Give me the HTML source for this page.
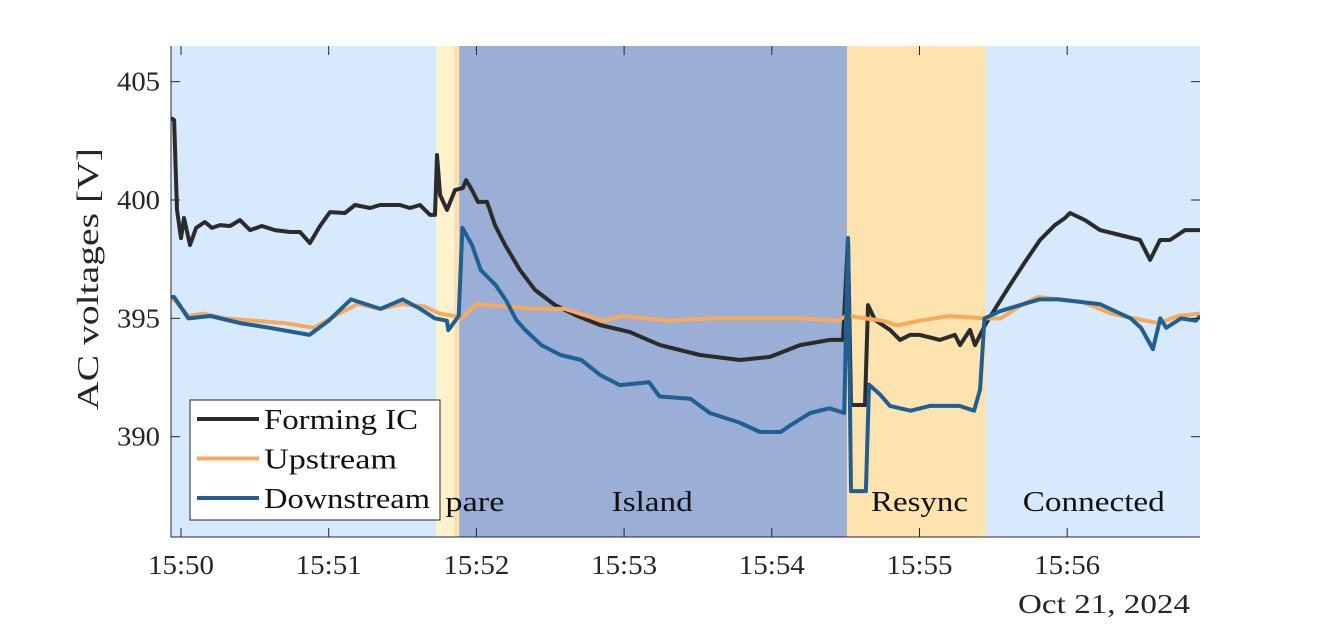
<!DOCTYPE html>
<html><head><meta charset="utf-8"><style>
body{margin:0;background:#fff;}
svg{display:block;font-family:"Liberation Serif",serif;}
</style></head><body>
<svg id="chart" width="1328" height="625" viewBox="0 0 1328 625" xmlns="http://www.w3.org/2000/svg"></svg>
<script>
// time in minutes after 15:50
const xTicks=[0,1,2,3,4,5,6];
const xTickLabels=["15:50","15:51","15:52","15:53","15:54","15:55","15:56"];
const yTicks=[390,395,400,405];
const phaseNames=["Connected","Prepare","Prepare","Island","Resync","Connected"];
const phaseStart=[-0.068,1.728,1.85,1.884,4.509,5.45];
const phaseEnd=[1.728,1.85,1.884,4.509,5.45,6.899];
const phaseColors=["#d6e9fd","#fdf2cc","#fde0ad","#9aaed6","#fde3ad","#d6e9fd"];
const labelNames=["pare","Island","Resync","Connected"];
const labelT=[1.99,3.19,5.0,6.18];
const labelW=[59,81,97,142];

const formT=[-0.068,-0.047,-0.027,0,0.02,0.061,0.102,0.162,0.21,0.264,0.332,0.399,0.467,0.548,0.636,0.738,0.806,0.873,0.941,1.009,1.11,1.178,1.28,1.347,1.415,1.483,1.55,1.618,1.686,1.72,1.733,1.754,1.801,1.855,1.909,1.93,1.97,2.011,2.072,2.126,2.194,2.295,2.397,2.532,2.668,2.837,3.04,3.243,3.514,3.785,3.988,4.191,4.394,4.482,4.516,4.536,4.631,4.651,4.699,4.8,4.868,4.936,5.003,5.139,5.24,5.274,5.342,5.376,5.444,5.511,5.613,5.714,5.816,5.917,5.985,6.019,6.12,6.222,6.357,6.493,6.561,6.628,6.696,6.798,6.899];
const formV=[403.46,403.38,399.58,398.39,399.24,398.1,398.82,399.07,398.82,398.94,398.9,399.15,398.73,398.9,398.73,398.65,398.65,398.18,398.9,399.49,399.45,399.79,399.66,399.79,399.79,399.79,399.66,399.79,399.37,399.37,401.9,400.21,399.58,400.42,400.51,400.84,400.42,399.92,399.92,398.94,398.1,397.04,396.2,395.56,395.14,394.72,394.42,393.87,393.45,393.24,393.37,393.87,394.09,394.09,398.39,391.34,391.34,395.56,394.93,394.51,394.09,394.3,394.3,394.09,394.3,393.87,394.51,393.87,394.72,395.4,396.41,397.38,398.31,398.94,399.24,399.45,399.15,398.73,398.52,398.31,397.47,398.31,398.31,398.73,398.73];

const upT=[-0.068,-0.02,0.05,0.15,0.3,0.5,0.7,0.9,1.1,1.2,1.35,1.5,1.65,1.75,1.85,1.9,2.0,2.2,2.4,2.6,2.85,3.0,3.3,3.6,3.9,4.2,4.45,4.5,4.52,4.63,4.75,4.85,5.0,5.2,5.44,5.55,5.7,5.8,5.95,6.1,6.3,6.45,6.62,6.75,6.9];
const upV=[395.9,395.6,395.1,395.2,395.0,394.9,394.8,394.6,395.3,395.6,395.4,395.6,395.5,395.2,395.1,395.0,395.6,395.5,395.4,395.4,394.9,395.1,394.9,395.0,395.0,395.0,394.9,395.1,395.1,395.0,394.9,394.7,394.9,395.1,395.0,395.0,395.6,395.9,395.8,395.7,395.2,395.0,394.8,395.1,395.2];

const downT=[-0.068,-0.047,0.05,0.2,0.4,0.6,0.87,1.0,1.15,1.35,1.5,1.62,1.72,1.8,1.81,1.88,1.905,1.97,2.03,2.13,2.2,2.27,2.33,2.44,2.57,2.71,2.84,2.97,3.17,3.24,3.45,3.58,3.78,3.92,4.06,4.13,4.26,4.39,4.49,4.516,4.536,4.637,4.658,4.73,4.8,4.94,5.07,5.27,5.37,5.41,5.44,5.545,5.81,5.94,6.22,6.43,6.5,6.58,6.63,6.67,6.77,6.87,6.9];
const downV=[395.9,395.9,395.0,395.1,394.8,394.6,394.3,394.9,395.8,395.4,395.8,395.4,395.0,394.9,394.5,395.1,398.82,398.1,397.04,396.41,395.77,394.93,394.51,393.87,393.45,393.24,392.6,392.18,392.3,391.7,391.6,391.0,390.6,390.2,390.2,390.5,391.0,391.2,391.0,398.39,387.7,387.7,392.2,391.8,391.3,391.1,391.3,391.3,391.1,392.0,395.0,395.3,395.8,395.8,395.6,395.0,394.6,393.7,395.0,394.6,395.0,394.9,395.1];

const svg=document.getElementById('chart');
const NS="http://www.w3.org/2000/svg";
const L=171,R=1200,T=46,B=537;
const X=t=>181+t*147.7;
const Y=v=>200-(v-400)*23.67;
function mk(tag,attrs,parent){const e=document.createElementNS(NS,tag);for(const k in attrs)e.setAttribute(k,attrs[k]);(parent||svg).appendChild(e);return e;}

const defs=mk('defs',{});
const cp=mk('clipPath',{id:'plotclip'},defs);
mk('rect',{x:L,y:T,width:R-L,height:B-T},cp);

phaseStart.forEach((s,i)=>{
  const r=mk('rect',{x:X(s),y:T,width:X(phaseEnd[i])-X(s),height:B-T,fill:phaseColors[i]});
  
  
});
labelNames.forEach((n,i)=>{
  const tx=mk('text',{x:X(labelT[i]),y:511,'font-size':28,'text-anchor':'middle',fill:'#111',textLength:labelW[i],lengthAdjust:'spacingAndGlyphs'});
  tx.textContent=n;
  
  
});

function series(ts,vs,color,name){
  const d=ts.map((t,i)=>(i?'L':'M')+X(t).toFixed(1)+' '+Y(vs[i]).toFixed(1)).join(' ');
  const p=mk('path',{d:d,fill:'none',stroke:color,'stroke-width':4,'stroke-linejoin':'round','clip-path':'url(#plotclip)'});
  
  
}
series(formT,formV,'#2b2b2b','forming-ic-line');
series(upT,upV,'#f8aa5c','upstream-line');
series(downT,downV,'#1f5f94','downstream-line');

const ax=mk('path',{d:`M${L} ${T} L${L} ${B} L${R} ${B}`,fill:'none',stroke:'#262626','stroke-width':1});


xTicks.forEach((t,i)=>{
  mk('line',{x1:X(t),x2:X(t),y1:B,y2:B-9,stroke:'#262626'});
  mk('line',{x1:X(t),x2:X(t),y1:T,y2:T+9,stroke:'#262626'});
  const tx=mk('text',{x:X(t),y:574,'font-size':27,'text-anchor':'middle',fill:'#262626',textLength:66,lengthAdjust:'spacingAndGlyphs'});
  tx.textContent=xTickLabels[i];
  
  
});
yTicks.forEach(v=>{
  mk('line',{x1:L,x2:L+9,y1:Y(v),y2:Y(v),stroke:'#262626'});
  mk('line',{x1:R,x2:R-9,y1:Y(v),y2:Y(v),stroke:'#262626'});
  const tx=mk('text',{x:160,y:Y(v)+9,'font-size':27,'text-anchor':'end',fill:'#262626',textLength:43,lengthAdjust:'spacingAndGlyphs'});
  tx.textContent=String(v);
  
  
});
const dt=mk('text',{x:1190,y:613,'font-size':27,'text-anchor':'end',fill:'#262626',textLength:172,lengthAdjust:'spacingAndGlyphs'});
dt.textContent='Oct 21, 2024';


const yl=mk('text',{x:0,y:0,'font-size':31,'text-anchor':'middle',fill:'#262626',transform:'translate(98,279) rotate(-90)',textLength:262,lengthAdjust:'spacingAndGlyphs'});
yl.textContent='AC voltages [V]';



const lg=mk('g',{});


mk('rect',{x:190,y:400,width:250,height:120,fill:'#fff',stroke:'#262626','stroke-width':1},lg);
const legNames=['Forming IC','Upstream','Downstream'];
const legW=[154,133,166];
const legColors=['#2b2b2b','#f8aa5c','#1f5f94'];
legNames.forEach((n,i)=>{
  const yy=419+i*39.5;
  mk('line',{x1:197,x2:259,y1:yy,y2:yy,stroke:legColors[i],'stroke-width':4},lg);
  const tx=mk('text',{x:264,y:yy+10,'font-size':29,fill:'#111',textLength:legW[i],lengthAdjust:'spacingAndGlyphs'},lg);
  tx.textContent=n;
  
  
});
</script>
</body></html>
